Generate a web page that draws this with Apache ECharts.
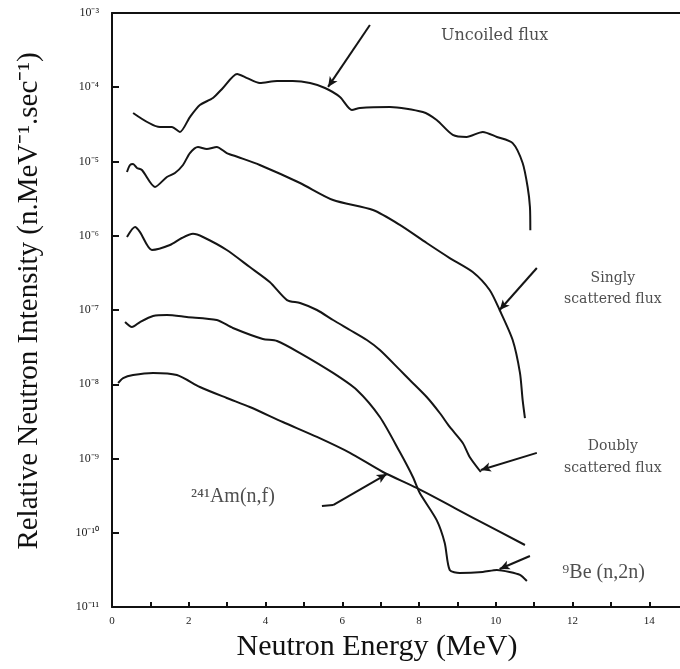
<!DOCTYPE html>
<html>
<head>
<meta charset="utf-8">
<script src="https://cdn.jsdelivr.net/npm/echarts@6/dist/echarts.min.js"></script>
<style>
html,body{margin:0;padding:0;background:#fff;}
#c{width:680px;height:669px;}
</style>
</head>
<body>
<div id="c"></div>
<script>
// ---- Data (energy in MeV, relative intensity) ----
const uncoiledX = [0.55,1.25,1.56,1.77,2.03,2.29,2.63,2.89,3.26,3.52,3.85,4.30,4.71,5.16,5.55,5.94,6.25,6.46,7.24,8.10,8.46,8.88,9.24,9.66,10.03,10.44,10.70,10.83,10.89,10.90];
const uncoiledY = [4.50e-5,2.92e-5,2.92e-5,2.50e-5,3.97e-5,5.77e-5,7.16e-5,9.77e-5,1.51e-4,1.33e-4,1.14e-4,1.21e-4,1.21e-4,1.14e-4,9.77e-5,7.40e-5,4.94e-5,5.26e-5,5.42e-5,4.64e-5,3.62e-5,2.28e-5,2.14e-5,2.50e-5,2.14e-5,1.77e-5,9.55e-6,4.54e-6,2.44e-6,1.19e-6];

const singlyX = [0.39,0.47,0.55,0.65,0.78,1.12,1.43,1.64,1.85,2.03,2.24,2.47,2.73,2.99,3.28,3.85,4.90,5.76,6.80,7.50,8.20,8.80,9.40,9.84,10.10,10.44,10.63,10.70,10.76];
const singlyY = [7.22e-6,8.97e-6,9.25e-6,8.17e-6,7.68e-6,4.54e-6,6.18e-6,7.00e-6,8.97e-6,1.30e-5,1.57e-5,1.47e-5,1.57e-5,1.30e-5,1.15e-5,8.97e-6,5.13e-6,3.03e-6,2.22e-6,1.40e-6,7.98e-7,5.01e-7,3.25e-7,1.86e-7,1.00e-7,3.94e-8,1.42e-8,6.13e-9,3.51e-9];

const doublyX = [0.39,0.60,0.73,1.04,1.51,1.82,2.11,2.37,2.99,3.59,4.11,4.56,4.90,5.34,5.76,6.20,6.64,6.98,7.50,7.76,8.20,8.54,8.80,9.14,9.32,9.61];
const doublyY = [9.62e-7,1.31e-6,1.12e-6,6.43e-7,7.50e-7,9.33e-7,1.06e-6,9.62e-7,6.43e-7,3.79e-7,2.38e-7,1.36e-7,1.24e-7,1.00e-7,7.33e-8,5.38e-8,3.94e-8,2.89e-8,1.56e-8,1.14e-8,6.73e-9,4.10e-9,2.66e-9,1.62e-9,1.05e-9,6.58e-10];

const beX = [0.34,0.52,0.73,1.07,1.43,1.95,2.73,3.15,3.93,4.30,4.90,5.76,6.38,6.98,7.50,7.84,8.02,8.46,8.67,8.80,9.06,9.66,10.03,10.36,10.63,10.81];
const beY = [6.89e-8,5.90e-8,6.89e-8,8.30e-8,8.57e-8,8.05e-8,7.33e-8,5.72e-8,4.07e-8,3.82e-8,2.63e-8,1.42e-8,8.38e-9,3.62e-9,1.22e-9,5.64e-10,3.43e-10,1.48e-10,7.28e-11,3.15e-11,2.87e-11,2.96e-11,3.15e-11,2.96e-11,2.70e-11,2.24e-11];

const amX = [0.16,0.29,0.55,1.07,1.69,2.29,2.99,3.59,4.45,5.34,6.20,7.06,7.94,9.51,10.76];
const amY = [1.04e-8,1.21e-8,1.33e-8,1.42e-8,1.33e-8,9.19e-9,6.53e-9,4.94e-9,3.10e-9,1.95e-9,1.19e-9,6.58e-10,4.01e-10,1.49e-10,6.84e-11];

// arrows: list of points, last point is the arrow head
const arrowUncoiled = [[6.72,6.89e-4],[5.63,1.01e-4]];
const arrowSingly   = [[11.07,3.68e-7],[10.10,1.00e-7]];
const arrowDoubly   = [[11.07,1.19e-9],[9.61,7.00e-10]];
const arrowAm       = [[5.47,2.29e-10],[5.76,2.36e-10],[7.16,6.18e-10]];
const arrowBe       = [[10.89,4.86e-11],[10.10,3.25e-11]];

// annotation labels
const labelText = ['Uncoiled flux','Singly\nscattered flux','Doubly\nscattered flux','²⁴¹Am(n,f)','⁹Be (n,2n)'];
const labelPos  = [[9.97,4.9e-4],[13.05,1.92e-7],[13.05,1.05e-9],[3.15,3.03e-10],[12.81,2.87e-11]];

const yTickExps = [-11,-10,-9,-8,-7,-6,-5,-4,-3];
const xTickLabels = [0,2,4,6,8,10,12,14];

const sup = {'-':'⁻','0':'⁰','1':'¹','2':'²','3':'³','4':'⁴','5':'⁵','6':'⁶','7':'⁷','8':'⁸','9':'⁹'};
const toSup = n => String(n).split('').map(c => sup[c]).join('');

const zip = (xs, ys) => xs.map((x, i) => [x, ys[i]]);

function curve(xs, ys) {
  return {
    type: 'line', data: zip(xs, ys), symbol: 'none', smooth: 0.25,
    lineStyle: { color: '#151515', width: 2 }, silent: true, z: 3
  };
}

function arrowLines(pts) {
  const segs = [];
  for (let i = 0; i < pts.length - 1; i++) {
    const last = i === pts.length - 2;
    segs.push([
      { coord: pts[i], symbol: 'none' },
      { coord: pts[i + 1], symbol: last ? 'arrow' : 'none', symbolSize: [7, 10] }
    ]);
  }
  return segs;
}

const allArrows = [].concat(
  arrowLines(arrowUncoiled), arrowLines(arrowSingly), arrowLines(arrowDoubly),
  arrowLines(arrowAm), arrowLines(arrowBe)
);

const labelFonts = [
  { fontFamily: 'DejaVu Serif', fontSize: 16, lineHeight: 21 },
  { fontFamily: 'DejaVu Serif', fontSize: 14, lineHeight: 21 },
  { fontFamily: 'DejaVu Serif', fontSize: 14, lineHeight: 22 },
  { fontFamily: 'Liberation Serif', fontSize: 20, lineHeight: 22 },
  { fontFamily: 'Liberation Serif', fontSize: 20, lineHeight: 22 }
];

const chart = echarts.init(document.getElementById('c'), null, { renderer: 'canvas' });
chart.setOption({
  animation: false,
  backgroundColor: '#fff',
  grid: { left: 112, right: 0, top: 13, bottom: 62 },
  xAxis: [{
    type: 'value', min: 0, max: 14.8, interval: 1,
    name: 'Neutron Energy (MeV)', nameLocation: 'middle', nameGap: 21,
    nameTextStyle: { fontFamily: 'Liberation Serif', fontSize: 30, color: '#111', padding: [0, 38, 0, 0] },
    axisLine: { show: true, lineStyle: { color: '#111', width: 2 } },
    axisTick: { show: true, inside: true, length: 5, lineStyle: { color: '#111', width: 2 } },
    axisLabel: {
      showMaxLabel: false, margin: 9,
      fontFamily: 'Liberation Serif', fontSize: 11, color: '#222',
      formatter: v => (xTickLabels.indexOf(v) >= 0 ? String(v) : '')
    },
    splitLine: { show: false }
  }, {
    type: 'value', position: 'top', min: 0, max: 14.8,
    axisLine: { show: true, onZero: false, lineStyle: { color: '#111', width: 2 } },
    axisTick: { show: false }, axisLabel: { show: false }, splitLine: { show: false }
  }],
  yAxis: {
    type: 'log', logBase: 10, min: 1e-11, max: 1e-3, interval: 1,
    name: 'Relative Neutron Intensity (n.MeV⁻¹.sec⁻¹)', nameLocation: 'middle', nameGap: 68,
    nameTextStyle: { fontFamily: 'Liberation Serif', fontSize: 29, color: '#111', padding: [0, 0, 0, 18] },
    axisLine: { show: true, lineStyle: { color: '#111', width: 2 } },
    axisTick: { show: true, inside: true, length: 7, lineStyle: { color: '#111', width: 2 } },
    axisLabel: {
      margin: 13, fontFamily: 'Liberation Serif', fontSize: 12, color: '#222',
      formatter: v => {
        const e = Math.round(Math.log10(v));
        return yTickExps.indexOf(e) >= 0 ? '10' + toSup(e) : '';
      }
    },
    splitLine: { show: false }
  },
  series: [
    curve(uncoiledX, uncoiledY),
    curve(singlyX, singlyY),
    curve(doublyX, doublyY),
    curve(beX, beY),
    curve(amX, amY),
    {
      type: 'line', data: [], silent: true,
      markLine: {
        silent: true, animation: false,
        label: { show: false },
        lineStyle: { color: '#151515', width: 2, type: 'solid' },
        emphasis: { disabled: true },
        data: allArrows
      }
    },
    {
      type: 'scatter', symbolSize: 0, silent: true,
      data: labelPos.map((p, i) => ({
        value: p,
        label: Object.assign({
          show: true, position: 'inside', formatter: labelText[i],
          color: '#222', align: 'center', verticalAlign: 'middle'
        }, labelFonts[i])
      }))
    }
  ]
});
</script>
</body>
</html>
